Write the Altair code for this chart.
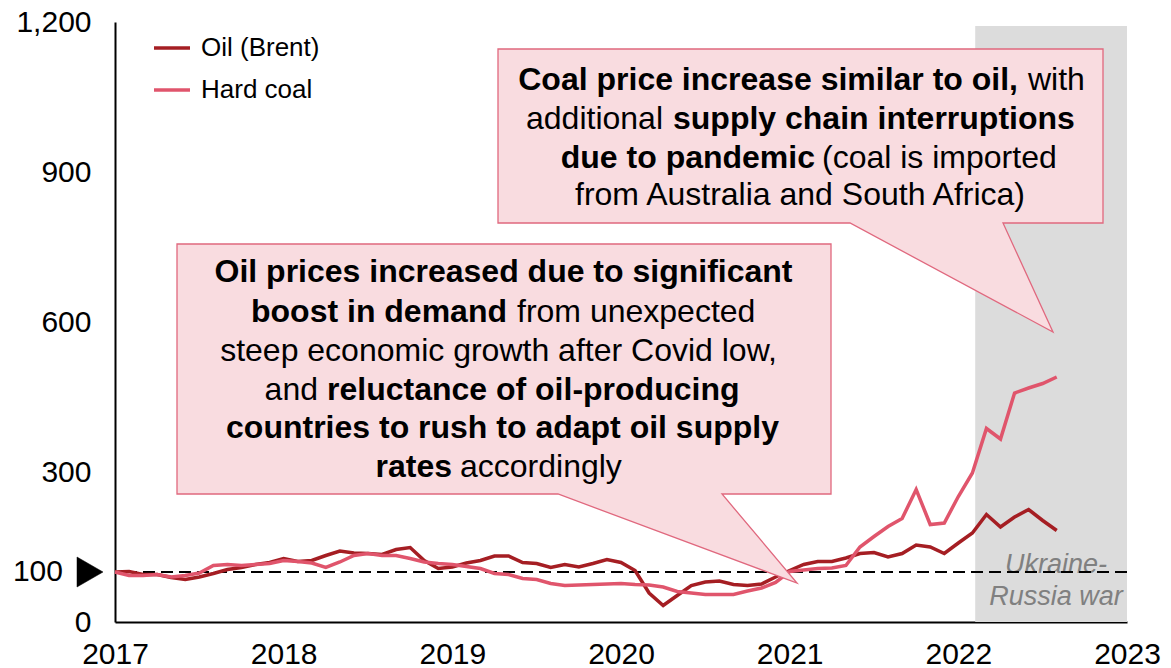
import altair as alt
import pandas as pd

# ---------------- data (index, Jan 2017 = 100) ----------------
MONTHS = [f"{y}-{m:02d}" for y in range(2017, 2023) for m in range(1, 13)][:68]

OIL = [
    100, 101, 95, 95, 89, 85, 90, 97, 105, 109, 115, 119,      # 2017
    127, 121, 123, 133, 142, 138, 137, 135, 145, 149, 123, 107,  # 2018
    110, 118, 123, 132, 132, 119, 117, 109, 115, 110, 117, 125,  # 2019
    119, 103, 58, 33, 53, 73, 80, 82, 75, 73, 76, 90,            # 2020
    103, 115, 121, 121, 128, 137, 139, 130, 137, 154, 150, 137,  # 2021
    158, 178, 215, 190, 210, 225, 203, 183,                      # 2022
]
COAL = [
    100, 93, 93, 95, 90, 93, 98, 113, 115, 113, 115, 117,
    123, 121, 118, 109, 120, 133, 137, 133, 133, 127, 120, 117,
    115, 111, 107, 97, 95, 87, 85, 77, 73, 74, 75, 76,
    77, 75, 74, 70, 61, 58, 55, 55, 55, 62, 68, 79,
    101, 104, 107, 108, 113, 150, 171, 191, 207, 265, 195, 198,
    251, 298, 387, 366, 458, 468, 477, 490,
]
SERIES = ["Oil (Brent)", "Hard coal"]
COLORS = ["#A51E23", "#E0556C"]
YEARS = [2017, 2018, 2019, 2020, 2021, 2022, 2023]
Y_TICKS = [0, 300, 600, 900, 1200]
WAR_START, WAR_END, WAR_TOP = 2022.1, 2023.0, 1192
WAR_LABEL = ["Ukraine-", "Russia war"]

FONT = "Liberation Sans"
BOX_FILL = "#F9DCE0"
BOX_STROKE = "#E0687E"

PW, PH = 1012, 600          # plot area size (page x 115.., y 22..)

rows = []
for name, vals in zip(SERIES, [OIL, COAL]):
    for mo, v in zip(MONTHS, vals):
        y, m = int(mo[:4]), int(mo[5:])
        rows.append({"month": mo, "t": y + (m - 1) / 12, "series": name, "value": v})
df = pd.DataFrame(rows)

# page-pixel -> data helpers for the annotations
def X(px):
    return 2017 + (px - 115) * 6.0 / PW

def Y(py):
    return (22 + PH - py) * 1200.0 / PH

# ---------------- layers ----------------
xscale = alt.Scale(domain=[2017, 2023], nice=False, zero=False)
yscale = alt.Scale(domain=[0, 1200], nice=False)

war = alt.Chart(pd.DataFrame({"t": [WAR_START], "t2": [WAR_END],
                              "value": [0], "value2": [WAR_TOP]})).mark_rect(
    color="#DCDCDC").encode(
    x=alt.X("t:Q", scale=xscale), x2="t2", y=alt.Y("value:Q", scale=yscale), y2="value2")

war_txt = alt.Chart(pd.DataFrame({"t": [X(1056)] * 2, "value": [Y(573), Y(605)],
                                  "text": WAR_LABEL})).mark_text(
    font=FONT, fontSize=27, fontStyle="italic", color="#808080", align="center",
    baseline="alphabetic").encode(x="t:Q", y="value:Q", text="text:N")

ref = alt.Chart(pd.DataFrame({"value": [100]})).mark_rule(
    color="black", strokeWidth=2, strokeDash=[12, 6]).encode(y="value:Q")

lines = alt.Chart(df).mark_line(strokeWidth=3.5).encode(
    x=alt.X("t:Q", scale=xscale,
            axis=alt.Axis(values=YEARS, format="d", title=None, labelFlush=False,
                          labelPadding=17, labelOverlap=False, labelFontSize=30)),
    y=alt.Y("value:Q", scale=yscale,
            axis=alt.Axis(values=Y_TICKS, format=",d", title=None, labelPadding=24,
                          labelFontSize=30)),
    color=alt.Color("series:N", scale=alt.Scale(domain=SERIES, range=COLORS),
                    legend=alt.Legend(orient="none", legendX=37, legendY=6, title=None,
                                      symbolType="stroke", symbolSize=1296,
                                      symbolStrokeWidth=3.5, labelFontSize=26,
                                      labelFont=FONT, labelColor="black",
                                      labelOffset=9, rowPadding=9, padding=0)),
    order="t:Q",
)

# callout shapes (box + pointer), path in plot pixels from plot origin
BOX1 = "M62,222 H716 V472 H607 L682,561 L443,472 H62 Z"
BOX2 = "M383,27 H988 V201 H888 L938,310 L735,201 H383 Z"
origin = pd.DataFrame({"t": [2017], "value": [1200]})
boxes = [
    alt.Chart(origin).mark_point(shape=p, size=4, filled=True, fill=BOX_FILL,
                                 stroke=BOX_STROKE, strokeWidth=1.3, opacity=1,
                                 fillOpacity=1, strokeOpacity=1).encode(
        x="t:Q", y="value:Q")
    for p in (BOX2, BOX1)
]

SEGMENTS = [
    ("Oil prices increased due to significant", 503.5, 282, "bold", "center"),
    ("boost in demand", 507, 322, "bold", "right"),
    ("from unexpected", 517, 322, "normal", "left"),
    ("steep economic growth after Covid low,", 498.5, 361, "normal", "center"),
    ("and", 318, 400, "normal", "right"),
    ("reluctance of oil-producing", 327, 400, "bold", "left"),
    ("countries to rush to adapt oil supply", 502.5, 438, "bold", "center"),
    ("rates", 452, 477, "bold", "right"),
    ("accordingly", 460, 477, "normal", "left"),
    ("Coal price increase similar to oil,", 1018, 90, "bold", "right"),
    ("with", 1028, 90, "normal", "left"),
    ("additional", 663, 129, "normal", "right"),
    ("supply chain interruptions", 673, 129, "bold", "left"),
    ("due to pandemic", 815, 168, "bold", "right"),
    ("(coal is imported", 822, 168, "normal", "left"),
    ("from Australia and South Africa)", 800, 205, "normal", "center"),
]
seg = pd.DataFrame([{"text": s, "t": X(px), "value": Y(py), "w": w, "a": a}
                    for s, px, py, w, a in SEGMENTS])
texts = []
for w in ("bold", "normal"):
    for a in ("left", "center", "right"):
        sub = seg[(seg.w == w) & (seg.a == a)]
        if len(sub) == 0:
            continue
        texts.append(alt.Chart(sub).mark_text(
            font=FONT, fontSize=32, fontWeight=w, align=a, baseline="alphabetic",
            color="black").encode(x="t:Q", y="value:Q", text="text:N"))

lab100 = alt.Chart(pd.DataFrame({"t": [X(63)], "value": [100], "text": ["100"]})).mark_text(
    font=FONT, fontSize=30, align="right", baseline="middle", color="black").encode(
    x="t:Q", y="value:Q", text="text:N")
tri = alt.Chart(pd.DataFrame({"t": [X(90)], "value": [100]})).mark_point(
    shape="M-13,-15 L13,0 L-13,15 Z", size=4, filled=True, fill="black",
    stroke="black", strokeWidth=0.5, opacity=1).encode(x="t:Q", y="value:Q")

chart = alt.layer(war, war_txt, ref, lines, *boxes, *texts, lab100, tri).properties(
    width=PW, height=PH,
    autosize=alt.AutoSizeParams(type="none"),
    padding={"left": 107, "top": 14, "right": 36, "bottom": 46},
    background="white",
).configure_view(stroke=None).configure_axis(
    labelFont=FONT, labelColor="black", ticks=False, grid=False,
    domainColor="black", domainWidth=2,
)

chart.save("out.html", embed_options={"renderer": "svg", "actions": False})
